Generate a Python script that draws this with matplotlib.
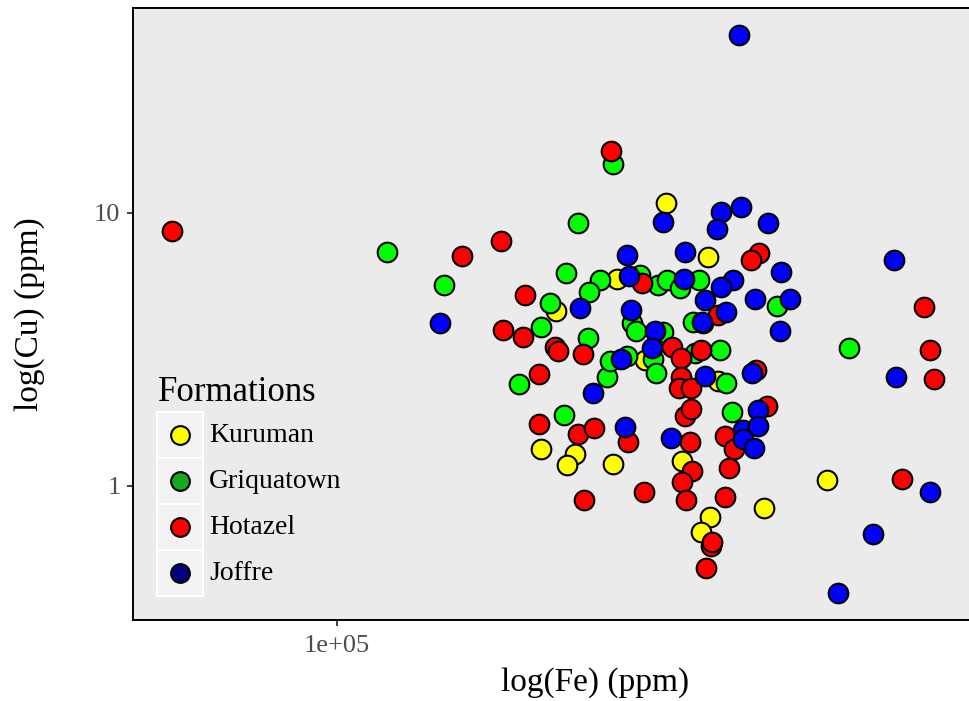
import matplotlib
matplotlib.use("Agg")
import matplotlib.pyplot as plt
from matplotlib.lines import Line2D
from matplotlib.patches import Rectangle
from matplotlib.ticker import FixedLocator, FixedFormatter, NullLocator

plt.rcParams["font.family"] = ["Liberation Serif", "DejaVu Serif"]

# ---- data (ppm) ----
kuruman_fe = [268800, 305000, 232000, 193200, 184600, 204500, 199700, 229300,
              282100, 360900, 306900, 298700, 436300, 314300, 252400, 300500]
kuruman_cu = [10.88, 6.90, 5.73, 4.38, 1.37, 1.31, 1.19, 1.20,
              1.23, 0.831, 0.770, 0.679, 1.05, 2.42, 2.89, 3.95]

griqua_fe = [116200, 137900, 229300, 206400, 199100, 220400, 213300, 189700,
             184600, 212600, 172800, 225100, 227200, 239100, 242700, 245700,
             248600, 262400, 269600, 280400, 296900, 291600, 266400, 258500,
             260900, 293300, 316200, 322000, 375300, 197900, 327900, 466100]
griqua_cu = [7.20, 5.45, 15.12, 9.19, 6.03, 5.68, 5.14, 4.68,
             3.82, 3.48, 2.36, 2.51, 2.87, 2.99, 3.95, 3.70,
             5.93, 5.45, 5.68, 5.31, 5.68, 3.99, 3.66, 2.92,
             2.59, 3.07, 3.15, 2.38, 4.56, 1.82, 1.87, 3.20]

hotazel_fe = [60900, 145600, 227900, 163700, 176000, 164700, 174900, 192600,
              194300, 209500, 183500, 250100, 355500, 347100, 314300, 273700,
              281200, 298700, 352400, 281200, 279500, 289800, 364200, 183500,
              206400, 216500, 239800, 210100, 251600, 284600, 289800, 321000,
              329900, 288900, 290700, 282100, 324900, 285500, 321000, 307700,
              308700, 303200, 583800, 594500, 601700, 546600]
hotazel_cu = [8.59, 6.96, 16.87, 7.90, 5.01, 3.73, 3.51, 3.23,
              3.12, 3.04, 2.57, 5.54, 7.14, 6.73, 4.23, 3.23,
              2.94, 3.15, 2.66, 2.51, 2.29, 2.29, 1.96, 1.69,
              1.55, 1.63, 1.45, 0.889, 0.951, 1.80, 1.91, 1.52,
              1.37, 1.45, 1.13, 1.03, 1.16, 0.889, 0.911, 0.603,
              0.624, 0.501, 4.52, 3.15, 2.47, 1.06]

joffre_fe = [136300, 334800, 266400, 317200, 336900, 313400, 365300, 239100,
             284600, 379800, 240500, 283800, 328900, 317200, 207600, 242000,
             302300, 351200, 390300, 322000, 299600, 260100, 378700, 257800,
             234900, 348100, 302300, 215800, 237700, 354500, 338800, 354500,
             338800, 350200, 272900, 533700, 536900, 594500, 500900, 450900]
joffre_cu = [3.95, 44.87, 9.27, 10.08, 10.52, 8.74, 9.19, 7.02,
             7.20, 6.08, 5.88, 5.73, 5.68, 5.36, 4.49, 4.41,
             4.80, 4.84, 4.84, 4.34, 3.99, 3.70, 3.70, 3.20,
             2.92, 2.59, 2.53, 2.19, 1.64, 1.90, 1.60, 1.66,
             1.49, 1.38, 1.50, 6.73, 2.51, 0.951, 0.667, 0.406]

formations = ["Kuruman", "Griquatown", "Hotazel", "Joffre"]
point_cols = ["#FFFF00", "#00FF00", "#FF0000", "#0000FF"]
legend_cols = ["#FFFF00", "#17A81F", "#FF0000", "#000080"]

series = [(kuruman_fe, kuruman_cu), (griqua_fe, griqua_cu),
          (hotazel_fe, hotazel_cu), (joffre_fe, joffre_cu)]

W, H = 970, 701
fig = plt.figure(figsize=(W / 100, H / 100), dpi=100)
# panel runs past the right edge of the picture (cropped like the original)
ax = fig.add_axes([133 / W, 81 / H, 924 / W, 612 / H])
ax.set_facecolor("#EBEBEB")

for (fe, cu), col in zip(series, point_cols):
    ax.scatter(fe, cu, s=200, color=col, edgecolor="black", linewidth=1.5, zorder=3)

ax.set_xscale("log")
ax.set_yscale("log")
ax.set_xlim(54170, 871000)
ax.set_ylim(0.3229, 56.34)

ax.xaxis.set_major_locator(FixedLocator([1e5]))
ax.xaxis.set_major_formatter(FixedFormatter(["1e+05"]))
ax.xaxis.set_minor_locator(NullLocator())
ax.yaxis.set_major_locator(FixedLocator([1, 10]))
ax.yaxis.set_major_formatter(FixedFormatter(["1", "10"]))
ax.yaxis.set_minor_locator(NullLocator())
ax.tick_params(axis="both", length=4, width=1.3, color="#333333",
               labelcolor="#4D4D4D", labelsize=19, pad=5)
ax.tick_params(axis="x", pad=7)

for side in ["left", "bottom", "top"]:
    ax.spines[side].set_color("black")
    ax.spines[side].set_linewidth(1.4)
ax.spines["right"].set_visible(False)

fig.text(595 / W, 1 - 683 / H, "log(Fe) (ppm)", ha="center", va="center", fontsize=24)
fig.text(30 / W, 1 - 314 / H, "log(Cu) (ppm)", ha="center", va="center",
         rotation=90, fontsize=24)

# legend inside the panel, drawn by hand to get the ggplot key boxes
fig.text(158 / W, 1 - 401 / H, "Formations", ha="left", va="baseline", fontsize=25)
for i, (name, col) in enumerate(zip(formations, legend_cols)):
    top = 412 + 46 * i
    fig.add_artist(Rectangle((157 / W, 1 - (top + 46) / H), 46 / W, 46 / H,
                             transform=fig.transFigure, facecolor="#F2F2F2",
                             edgecolor="white", linewidth=1.5, zorder=1))
    cy = 1 - (top + 23) / H
    fig.add_artist(Line2D([180 / W], [cy], transform=fig.transFigure, marker="o",
                          markersize=13.5, markerfacecolor=col,
                          markeredgecolor="black", markeredgewidth=1.5,
                          linestyle="", zorder=2))
    fig.text(209 / W, cy, name, ha="left", va="center", fontsize=20)

fig.savefig("out.png", dpi=100)
